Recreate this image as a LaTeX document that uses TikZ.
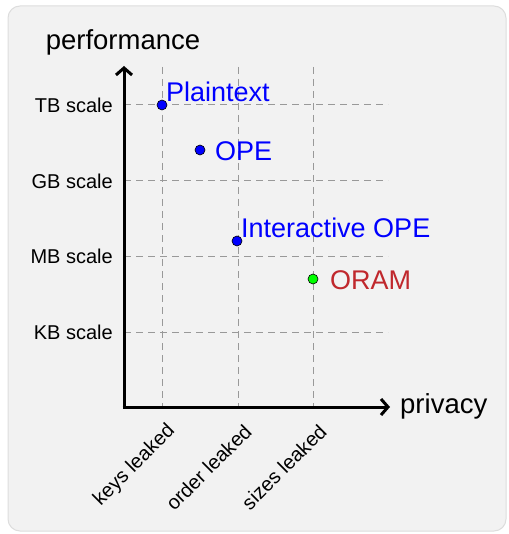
\documentclass[tikz,border=0pt]{standalone}
\usepackage{fontspec}
\setmainfont{Liberation Sans}
\usetikzlibrary{arrows.meta}
\definecolor{bgfill}{HTML}{F2F2F2}
\definecolor{bgline}{HTML}{DDDDDD}
\definecolor{gridc}{HTML}{999999}
\definecolor{oramred}{HTML}{C0282D}
\tikzset{
  gridline/.style={draw=gridc, line width=1pt, dash pattern=on 7pt off 5pt},
  axisline/.style={line width=3pt, -{Straight Barb[length=7pt,width=16pt,line width=3pt]}},
  ticklabel/.style={font=\fontsize{20}{24}\selectfont, anchor=east, inner sep=0pt},
  xticklabel/.style={font=\fontsize{20}{24}\selectfont, anchor=east, rotate=45, inner sep=0pt},
  axislabel/.style={font=\fontsize{27.5}{32}\selectfont, inner sep=0pt},
  dotblue/.style={circle, fill=blue, draw=black, line width=0.6pt, minimum size=10pt, inner sep=0pt},
  dotgreen/.style={circle, fill=green, draw=black, line width=0.6pt, minimum size=10pt, inner sep=0pt},
  ptlabel/.style={font=\fontsize{27}{32}\selectfont, inner sep=0pt},
}
\begin{document}
\begin{tikzpicture}[x=1pt,y=-1pt]
\useasboundingbox (0,0) rectangle (508,534);
\draw[fill=bgfill, draw=bgline, line width=1pt, rounded corners=12pt] (8,6) rectangle (506,531);
% grid
\foreach \gx in {162,238,313} { \draw[gridline] (\gx,67) -- (\gx,407); }
\foreach \gy in {105,181,256,332} { \draw[gridline] (124,\gy) -- (388,\gy); }
% axes
\coordinate (o) at (124,407);
\coordinate (ytop) at (124,66);
\coordinate (xend) at (390,407);
\draw[axisline] (o) -- (ytop);
\draw[axisline] ([xshift=-1.5pt]o) -- (xend);
\node[axislabel, anchor=base] (perf) at (123,50) {performance};
\node[axislabel, anchor=west] (priv) at (400,406) {privacy};
% y ticks
\node[ticklabel] (tb) at (113,105) {TB scale};
\node[ticklabel] (gb) at (113,181) {GB scale};
\node[ticklabel] (mb) at (113,256) {MB scale};
\node[ticklabel] (kb) at (113,332) {KB scale};
% x ticks
\node[xticklabel] (keys) at (172,428) {keys leaked};
\node[xticklabel] (order) at (248,428) {order leaked};
\node[xticklabel] (sizes) at (323,428) {sizes leaked};
% points
\node[dotblue] (p1) at (162,105) {};
\node[ptlabel, text=blue, anchor=base west] (l1) at (166,102) {Plaintext};
\node[dotblue] (p2) at (200,150) {};
\node[ptlabel, text=blue, anchor=west] (l2) at (215,151) {OPE};
\node[dotblue] (p3) at (237,241) {};
\node[ptlabel, text=blue, anchor=base west] (l3) at (241,237) {Interactive OPE};
\node[dotgreen] (p4) at (313,279) {};
\node[ptlabel, text=oramred, anchor=west] (l4) at (330,280) {ORAM};
\end{tikzpicture}
\end{document}
